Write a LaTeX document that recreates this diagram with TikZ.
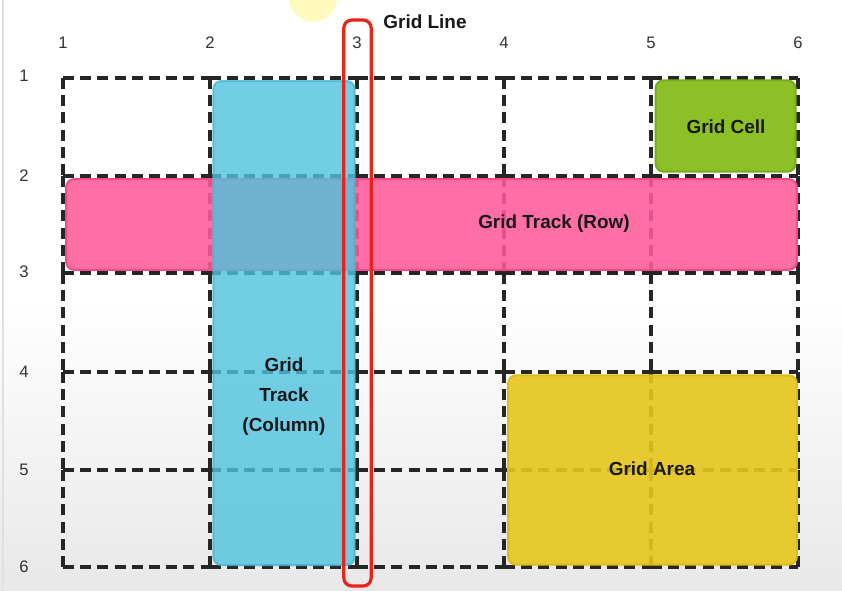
\documentclass[tikz,border=0pt]{standalone}
\usepackage{fontspec}
\setmainfont{Liberation Sans}
\definecolor{gridline}{HTML}{262626}
\definecolor{trackblue}{HTML}{4EC2DE}
\definecolor{trackblueedge}{HTML}{45B5D2}
\definecolor{trackpink}{HTML}{FF5A98}
\definecolor{trackpinkedge}{HTML}{F04D88}
\definecolor{cellgreen}{HTML}{8CC026}
\definecolor{cellgreenedge}{HTML}{76AD1C}
\definecolor{areayellow}{HTML}{E6C61A}
\definecolor{areayellowedge}{HTML}{DDBD14}
\definecolor{linered}{HTML}{E8231A}
\definecolor{numgray}{HTML}{333333}
\begin{document}
\begin{tikzpicture}[x=0.75pt,y=-0.75pt,
  gridseg/.style={draw=gridline, line width=3.2pt, dash pattern=on 8.3pt off 4.6pt},
  numlabel/.style={font=\fontsize{12.5}{14}\selectfont, text=numgray, inner sep=0pt},
  boxtext/.style={font=\bfseries\fontsize{14.2}{22.5}\selectfont, align=center, text=black!90, inner sep=0pt},
  region/.style={rectangle, rounded corners=6pt, line width=1.5pt, inner sep=0pt}]
% canvas
\useasboundingbox (0,0) rectangle (842,590);
\clip (0,0) rectangle (842,590);
\shade[top color=white, bottom color=black!9] (0,300) rectangle (842,590);
\fill[white] (0,0) rectangle (842,300);
\draw[line width=1.5pt, black!12] (3,0) -- (3,590);
% cursor highlight
\fill[yellow!55, opacity=0.45] (313,-2) circle (24);
% grid points
\foreach \x [count=\i] in {63,210,357,504,651,798}{
  \foreach \y [count=\j] in {78,176,273,372,470,567}{
    \coordinate (p\i\j) at (\x,\y);
  }
}
% grid segments: each starting at an intersection
\foreach \i [evaluate=\i as \ni using int(\i+1)] in {1,...,5}{
  \foreach \j in {1,...,6}{
    \draw[gridseg] (p\i\j) -- (p\ni\j);
  }
}
\foreach \j [evaluate=\j as \nj using int(\j+1)] in {1,...,5}{
  \foreach \i in {1,...,6}{
    \draw[gridseg] (p\i\j) -- (p\i\nj);
  }
}
% column numbers
\foreach \x [count=\i] in {63,210,357,504,651,798}{
  \node[numlabel] (col\i) at (\x,43) {\i};
}
% row numbers
\foreach \y [count=\j] in {76,176,272,372,470,567}{
  \node[numlabel] (row\j) at (24,\y) {\j};
}
% pink row track
\node[region, fill=trackpink, fill opacity=0.88, draw=trackpinkedge,
      minimum width=548pt, minimum height=68pt] (rowtrack) at (431.5,224.5) {};
\node[boxtext] (rowtext) at (554,224) {Grid Track (Row)};
% blue column track
\node[region, fill=trackblue, fill opacity=0.8, draw=trackblueedge, draw opacity=0.8,
      minimum width=106pt, minimum height=363pt] (coltrack) at (284,323) {};
\node[boxtext] (coltext) at (284,397) {Grid\\Track\\(Column)};
% green cell
\node[region, fill=cellgreen, draw=cellgreenedge,
      minimum width=105pt, minimum height=68.5pt] (cell) at (725.5,126) {};
\node[boxtext] (celltext) at (726,127) {Grid Cell};
% yellow area
\node[region, fill=areayellow, fill opacity=0.9, draw=areayellowedge,
      minimum width=216.5pt, minimum height=142pt] (area) at (652.5,470) {};
\node[boxtext] (areatext) at (652,469) {Grid Area};
% red grid line marker
\node[rectangle, rounded corners=6pt, draw=linered, line width=2.4pt, inner sep=0pt,
      minimum width=20.5pt, minimum height=424.5pt] (gridline3) at (357.5,303) {};
\node[boxtext] (linetext) at (425,22) {Grid Line};
\end{tikzpicture}
\end{document}
